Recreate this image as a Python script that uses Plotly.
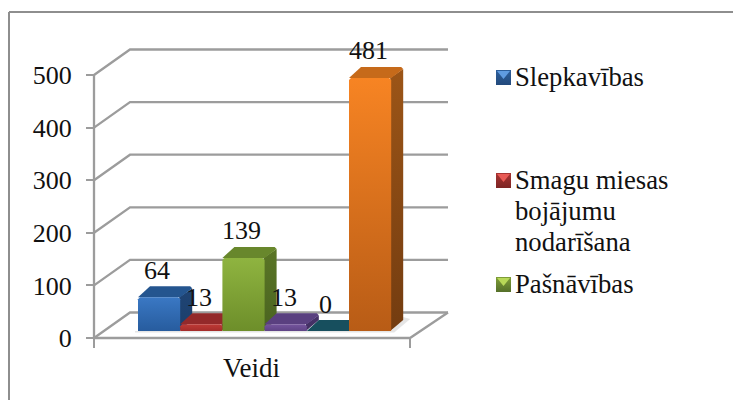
import plotly.graph_objects as go

# Data
values = [64, 13, 139, 13, 0, 481]
category_label = "Veidi"
legend_labels = ["Slepkavības", "Smagu miesas<br>bojājumu<br>nodarīšana", "Pašnāvības"]
y_ticks = [0, 100, 200, 300, 400, 500]

# Styles: (front top, front bottom, side top, side bottom, top face)
bar_colors = [
    ("#3a78c4", "#275c9e", "#1f4474", "#1c3f6c", "#24558f"),
    ("#be3a36", "#a52c2a", "#7a2322", "#751f1f", "#93292a"),
    ("#8fb440", "#6d8e2a", "#5a7526", "#4a6420", "#68872c"),
    ("#75559e", "#5f4386", "#47326a", "#412e60", "#5a4080"),
    ("#1a6070", "#185868", "#12414d", "#12414d", "#174f5e"),
    ("#f78423", "#b85c16", "#9c5517", "#733c10", "#c66a1a"),
]
legend_colors = [
    ("#2d5f9c", "#234a7c", "#5f9be0"),
    ("#a83432", "#7d2524", "#e85a55"),
    ("#7f9e38", "#55702a", "#b8d858"),
]
GRID = "#9c9c9c"
FONT = "Liberation Serif"
TEXT = "#111111"
W, H = 733, 400

# Geometry in screen terms, expressed through the axis scale
X0, X1 = 94, 410
Y0_PX, Y500_PX = 338, 75
PPU = (Y0_PX - Y500_PX) / 500
DX, DY = 36, 25.5
BAR_X0, BAR_W = 138, 42.2
BAR_BASE_PX = 331
BAR_DX, BAR_DY = 12, 11
LINE_PX = 31


def vy(px):
    return (Y0_PX - px) / PPU


fig = go.Figure()


def poly(xs, ys, color=None, grad=None):
    kw = dict(
        x=list(xs) + [xs[0]], y=list(ys) + [ys[0]], mode="lines", fill="toself",
        line=dict(width=0), hoverinfo="skip", showlegend=False,
    )
    if grad:
        kw["fillgradient"] = dict(type="vertical", colorscale=[[0, grad[1]], [1, grad[0]]])
    else:
        kw["fillcolor"] = color
    fig.add_trace(go.Scatter(**kw))


# Walls and floor
gx, gy = [], []
dv = DY / PPU
for t in y_ticks:
    gx += [X0, X0 + DX, 448, None]
    gy += [t, t + dv, t + dv, None]
gx += [X0, X0, None, X0, X1, 448]
gy += [y_ticks[0], y_ticks[-1], None, 0, 0, dv]
fig.add_trace(go.Scatter(x=gx, y=gy, mode="lines", line=dict(color=GRID, width=2.3),
                         hoverinfo="skip", showlegend=False))

# Shadow on the floor
base = vy(BAR_BASE_PX)
sx = BAR_X0 - 3
ex = BAR_X0 + BAR_W * len(values)
poly([sx, ex + 3, ex + 19, ex + 12, ex, sx],
     [base - 3, base - 3, base + 12 / PPU, base + 14 / PPU, base, base],
     color="rgba(0,0,0,0.10)")

# Bars
dyv = BAR_DY / PPU
c = 2
cv = 2 / PPU
for i, v in enumerate(values):
    x0 = BAR_X0 + i * BAR_W
    x1 = x0 + BAR_W
    top = base + v
    ft, fb, st, sb, tc = bar_colors[i]
    if v > 0:
        poly([x1 - 1, x1 + BAR_DX, x1 + BAR_DX, x1 - 1],
             [base, base + dyv, top + dyv - cv, top],
             grad=(st, sb))
    poly([x0, x0 + BAR_DX, x1 + BAR_DX - c, x1 + BAR_DX, x1],
         [top, top + dyv, top + dyv, top + dyv - cv, top],
         color=tc)
    if v > 0:
        poly([x0, x0, x0 + c, x1 - c, x1, x1],
             [base, top - cv, top, top, top - cv, base],
             grad=(ft, fb))

annotations = []
for i, v in enumerate(values):
    annotations.append(dict(
        x=BAR_X0 + (i + 0.5) * BAR_W - 2, y=base + v, text=str(v), showarrow=False,
        xanchor="center", yanchor="middle", yshift=27,
        font=dict(family=FONT, size=26, color=TEXT),
    ))
annotations.append(dict(x=251, y=vy(368), text=category_label, showarrow=False,
                        xanchor="center", yanchor="middle",
                        font=dict(family=FONT, size=27, color=TEXT)))

# Legend
legend_rows = [(70, 77), (173, 180), (277, 284)]
for (top_px, mid_px), label, (c1, c2, c3) in zip(legend_rows, legend_labels, legend_colors):
    ya, yb = vy(top_px), vy(top_px + 15)
    poly([496, 511, 511, 496], [ya, ya, yb, yb], grad=(c1, c2))
    poly([497, 510, 503.5], [vy(top_px + 1), vy(top_px + 1), vy(top_px + 9)], color=c3)
    for j, line in enumerate(label.split("<br>")):
        annotations.append(dict(
            x=513, y=vy(mid_px + j * LINE_PX), text=line, showarrow=False,
            xanchor="left", yanchor="middle", align="left",
            font=dict(family=FONT, size=26.7, color=TEXT),
        ))

fig.update_layout(
    width=W, height=H, margin=dict(l=0, r=0, t=0, b=0),
    paper_bgcolor="white", plot_bgcolor="rgba(0,0,0,0)", showlegend=False,
    xaxis=dict(range=[0, W], anchor="free", position=(H - Y0_PX) / H, side="bottom",
               tickmode="array", tickvals=[X0, X1], ticktext=["", ""],
               ticks="outside", ticklen=9, tickwidth=2, tickcolor=GRID,
               showgrid=False, zeroline=False, showline=False),
    yaxis=dict(range=[vy(H), vy(0)], anchor="free", position=X0 / W, side="left",
               tickmode="array", tickvals=y_ticks, ticks="outside", ticklen=8,
               tickwidth=2, tickcolor=GRID, ticklabelstandoff=9,
               tickfont=dict(family=FONT, size=26, color=TEXT),
               showgrid=False, zeroline=False, showline=False),
    annotations=annotations,
    shapes=[
        dict(type="line", xref="x", yref="paper", x0=9, x1=9, y0=0, y1=(H - 12) / H,
             line=dict(color="#8e8e8e", width=2)),
        dict(type="line", xref="x", yref="paper", x0=9, x1=W, y0=(H - 12) / H, y1=(H - 12) / H,
             line=dict(color="#8e8e8e", width=2)),
    ],
)

fig.write_html("out.html", post_script="document.body.style.margin='0';",
               config={"displayModeBar": False})
